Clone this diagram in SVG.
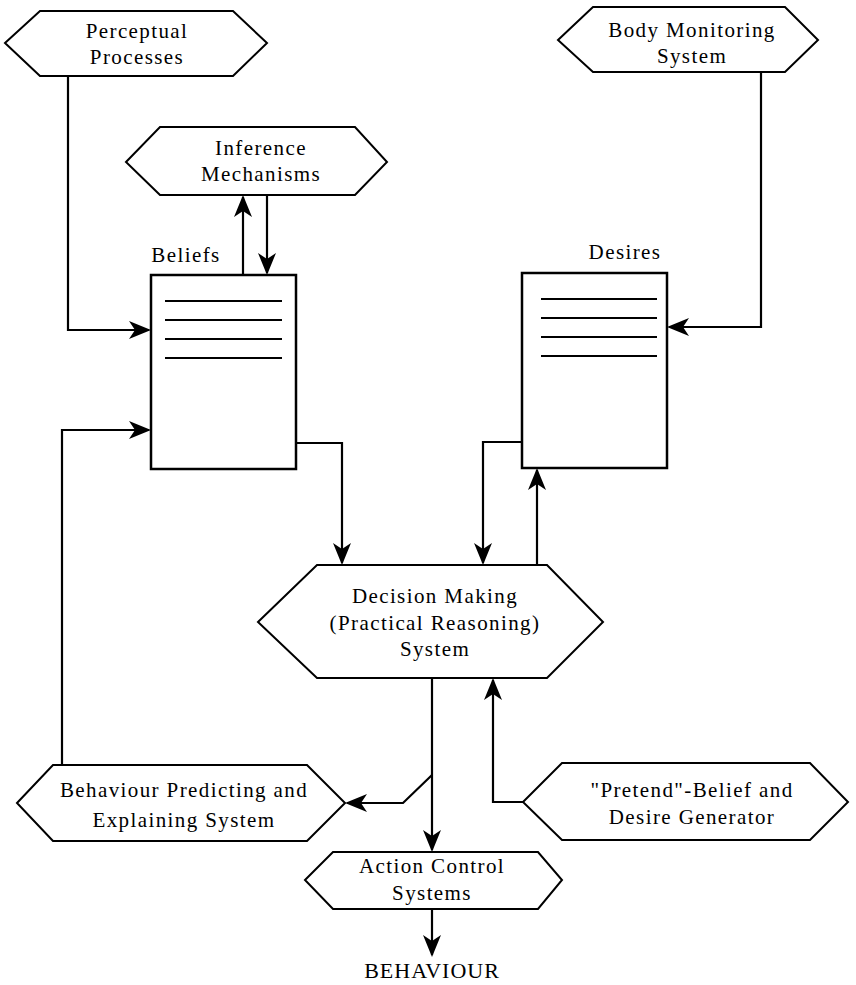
<svg xmlns="http://www.w3.org/2000/svg" width="856" height="985" viewBox="0 0 856 985">
<style>
.hex{fill:#fff;stroke:#000;stroke-width:2;stroke-linejoin:miter}
.box{fill:#fff;stroke:#000;stroke-width:2.5}
.ln{stroke:#000;stroke-width:2}
.t{font-family:"Liberation Serif","Times New Roman",serif;font-size:21px;letter-spacing:1.4px;fill:#000;text-anchor:middle}
.c{fill:none;stroke:#000;stroke-width:2.2;marker-end:url(#ah)}
</style>
<defs>
<marker id="ah" viewBox="0 0 22 18" refX="20" refY="9" markerWidth="22" markerHeight="18" markerUnits="userSpaceOnUse" orient="auto">
<path d="M0,0 L22,9 L0,18 L6,9 z" fill="#000"/>
</marker>
</defs>
<rect width="856" height="985" fill="#fff"/>
<g id="connectors">
<path class="c" d="M68,76 V330 H149"/>
<path class="c" d="M243,275 V197"/>
<path class="c" d="M267,195 V273"/>
<path class="c" d="M761,72 V327 H669"/>
<path class="c" d="M296,443 H342 V563"/>
<path class="c" d="M522,442 H483 V563"/>
<path class="c" d="M537,565 V470"/>
<path class="c" d="M62,765 V430 H149"/>
<path class="c" d="M432,678 V850"/>
<path class="c" d="M432,775 L403,803 H347"/>
<path class="c" d="M523,802 H493 V680"/>
<path class="c" d="M432,909 V955"/>
</g>
<g id="perceptual">
<polygon class="hex" points="5,43 40,11 233,11 267,43 233,76 40,76"/>
<text class="t" x="137" y="38">Perceptual</text>
<text class="t" x="137" y="64">Processes</text>
</g>
<g id="body-monitoring">
<polygon class="hex" points="558,40 593,7 785,7 818,40 785,72 593,72"/>
<text class="t" x="692" y="37">Body Monitoring</text>
<text class="t" x="692" y="63">System</text>
</g>
<g id="inference">
<polygon class="hex" points="126,162 160,127 355,127 387,162 355,195 160,195"/>
<text class="t" x="261" y="155">Inference</text>
<text class="t" x="261" y="181">Mechanisms</text>
</g>
<g id="beliefs">
<text class="t" x="186" y="262">Beliefs</text>
<rect class="box" x="151" y="275" width="145" height="194"/>
<line class="ln" x1="165" y1="301" x2="282" y2="301"/>
<line class="ln" x1="165" y1="320" x2="282" y2="320"/>
<line class="ln" x1="165" y1="339" x2="282" y2="339"/>
<line class="ln" x1="165" y1="358" x2="282" y2="358"/>
</g>
<g id="desires">
<text class="t" x="625" y="259">Desires</text>
<rect class="box" x="522" y="273" width="145" height="195"/>
<line class="ln" x1="541" y1="299" x2="657" y2="299"/>
<line class="ln" x1="541" y1="318" x2="657" y2="318"/>
<line class="ln" x1="541" y1="337" x2="657" y2="337"/>
<line class="ln" x1="541" y1="356" x2="657" y2="356"/>
</g>
<g id="decision">
<polygon class="hex" points="258,622 317,565 547,565 603,622 547,678 317,678"/>
<text class="t" x="435" y="603">Decision Making</text>
<text class="t" x="435" y="630">(Practical Reasoning)</text>
<text class="t" x="435" y="656">System</text>
</g>
<g id="behaviour-predicting">
<polygon class="hex" points="17,803 53,765 307,765 345,803 307,841 53,841"/>
<text class="t" x="184" y="797">Behaviour Predicting and</text>
<text class="t" x="184" y="827">Explaining System</text>
</g>
<g id="pretend">
<polygon class="hex" points="523,802 562,763 810,763 848,802 810,840 562,840"/>
<text class="t" x="692" y="797">"Pretend"-Belief and</text>
<text class="t" x="692" y="824">Desire Generator</text>
</g>
<g id="action-control">
<polygon class="hex" points="305,880 333,852 538,852 562,880 538,909 333,909"/>
<text class="t" x="432" y="873">Action Control</text>
<text class="t" x="432" y="900">Systems</text>
</g>
<g id="behaviour">
<text class="t" x="432" y="978" style="font-size:22px;letter-spacing:1px">BEHAVIOUR</text>
</g>
</svg>
